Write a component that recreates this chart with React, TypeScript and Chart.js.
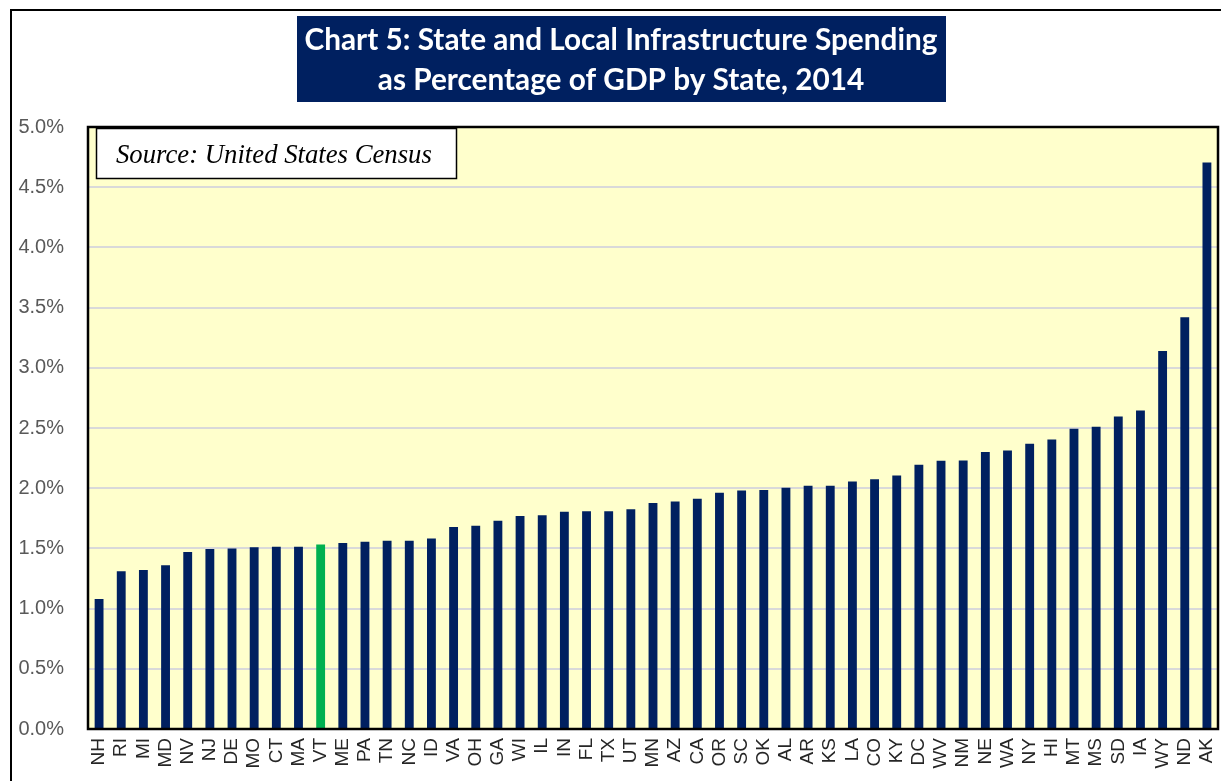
import React, { useEffect, useRef } from "react";
import { Chart, registerables } from "chart.js";

Chart.register(...registerables);

const states = [
  "NH", "RI", "MI", "MD", "NV", "NJ", "DE", "MO", "CT", "MA", "VT", "ME", "PA", "TN", "NC", "ID",
  "VA", "OH", "GA", "WI", "IL", "IN", "FL", "TX", "UT", "MN", "AZ", "CA", "OR", "SC", "OK", "AL",
  "AR", "KS", "LA", "CO", "KY", "DC", "WV", "NM", "NE", "WA", "NY", "HI", "MT", "MS", "SD", "IA",
  "WY", "ND", "AK",
];

const spendingPct = [
  1.08, 1.31, 1.32, 1.36, 1.47, 1.495, 1.50, 1.51, 1.514, 1.514, 1.533, 1.545, 1.556, 1.564, 1.564, 1.583,
  1.678, 1.689, 1.73, 1.77, 1.775, 1.805, 1.808, 1.808, 1.825, 1.877, 1.89, 1.913, 1.963, 1.98, 1.986, 2.003,
  2.02, 2.02, 2.055, 2.074, 2.105, 2.194, 2.227, 2.23, 2.30, 2.313, 2.369, 2.404, 2.493, 2.51, 2.596, 2.646,
  3.14, 3.42, 4.706,
];

const highlightState = "VT";
const yTicksMax = 5;
const yTickStep = 0.5;

const titleLines = [
  "Chart 5: State and Local Infrastructure Spending",
  "as Percentage of GDP by State, 2014",
];
const sourceText = "Source: United States Census";

const NAVY = "#002060";
const GREEN = "#00B050";
const AXIS_FONT = '"Liberation Sans", Arial, sans-serif';

export default function App() {
  const canvasRef = useRef<HTMLCanvasElement | null>(null);

  useEffect(() => {
    const canvas = canvasRef.current;
    if (!canvas) return;

    const decor = {
      id: "decor",
      beforeDraw(chart: any) {
        const { ctx, chartArea } = chart;
        ctx.save();
        ctx.fillStyle = "#ffffff";
        ctx.fillRect(0, 0, chart.width, chart.height);
        // outer frame
        ctx.strokeStyle = "#000000";
        ctx.lineWidth = 2;
        ctx.beginPath();
        ctx.moveTo(11, chart.height);
        ctx.lineTo(11, 10);
        ctx.lineTo(chart.width, 10);
        ctx.stroke();
        // plot background
        ctx.fillStyle = "#FFFFCC";
        ctx.fillRect(chartArea.left, chartArea.top, chartArea.right - chartArea.left, chartArea.bottom - chartArea.top);
        ctx.restore();
      },
      afterDraw(chart: any) {
        const { ctx, chartArea } = chart;
        ctx.save();
        // plot border
        ctx.strokeStyle = "#000000";
        ctx.lineWidth = 2.5;
        ctx.strokeRect(chartArea.left, chartArea.top, chartArea.right - chartArea.left, chartArea.bottom - chartArea.top);

        // title box
        ctx.fillStyle = NAVY;
        ctx.fillRect(297, 16, 649, 86);
        ctx.fillStyle = "#ffffff";
        ctx.textAlign = "center";
        ctx.textBaseline = "alphabetic";
        const targetW = 633;
        let fs = 26;
        ctx.font = `bold ${fs}px Lato, "Open Sans", sans-serif`;
        const w = ctx.measureText(titleLines[0]).width;
        fs = fs * (targetW / w);
        ctx.font = `bold ${fs}px Lato, "Open Sans", sans-serif`;
        ctx.fillText(titleLines[0], 621, 50);
        ctx.fillText(titleLines[1], 621, 90);

        // source box
        ctx.fillStyle = "#ffffff";
        ctx.fillRect(96, 128, 361, 51);
        ctx.strokeStyle = "#000000";
        ctx.lineWidth = 1.5;
        ctx.strokeRect(96.5, 128.5, 360, 50);
        ctx.fillStyle = "#000000";
        ctx.textAlign = "left";
        let sfs = 24;
        ctx.font = `italic ${sfs}px "Liberation Serif", "DejaVu Serif", serif`;
        const sw = ctx.measureText(sourceText).width;
        sfs = sfs * (316 / sw);
        ctx.font = `italic ${sfs}px "Liberation Serif", "DejaVu Serif", serif`;
        ctx.fillText(sourceText, 116, 163);
        ctx.restore();
      },
    };

    const chart = new Chart(canvas, {
      type: "bar",
      data: {
        labels: states,
        datasets: [
          {
            data: spendingPct,
            backgroundColor: states.map((s) => (s === highlightState ? GREEN : NAVY)),
            barPercentage: 0.4,
            categoryPercentage: 1,
          },
        ],
      },
      options: {
        animation: false,
        responsive: false,
        devicePixelRatio: 1,
        layout: { padding: { top: 127, left: 0, right: 3, bottom: 0 } },
        plugins: {
          legend: { display: false },
          title: { display: false },
          tooltip: { enabled: false },
        },
        scales: {
          y: {
            min: 0,
            max: yTicksMax,
            ticks: {
              stepSize: yTickStep,
              callback: (v: any) => Number(v).toFixed(1) + "%",
              color: "#595959",
              font: { family: AXIS_FONT, size: 20 },
              padding: 24,
            },
            grid: { color: "#D9D9D9", lineWidth: 2, drawTicks: false },
            border: { display: true, color: "#000000", width: 2 },
            afterFit: (scale: any) => {
              scale.width = 88;
              scale.paddingTop = 0;
              scale.paddingBottom = 0;
            },
          },
          x: {
            ticks: {
              minRotation: 90,
              maxRotation: 90,
              autoSkip: false,
              color: "#262626",
              font: { family: AXIS_FONT, size: 19 },
              padding: 9,
            },
            grid: { display: false, drawTicks: false },
            border: { display: true, color: "#000000", width: 2 },
            afterFit: (scale: any) => {
              scale.height = 52;
              scale.paddingLeft = 0;
              scale.paddingRight = 0;
            },
          },
        },
      },
      plugins: [decor],
    });

    return () => chart.destroy();
  }, []);

  return (
    <div style={{ position: "absolute", left: 0, top: 0, width: 1221, height: 781, background: "#fff" }}>
      <canvas ref={canvasRef} width={1221} height={781} style={{ display: "block", width: 1221, height: 781 }} />
    </div>
  );
}
